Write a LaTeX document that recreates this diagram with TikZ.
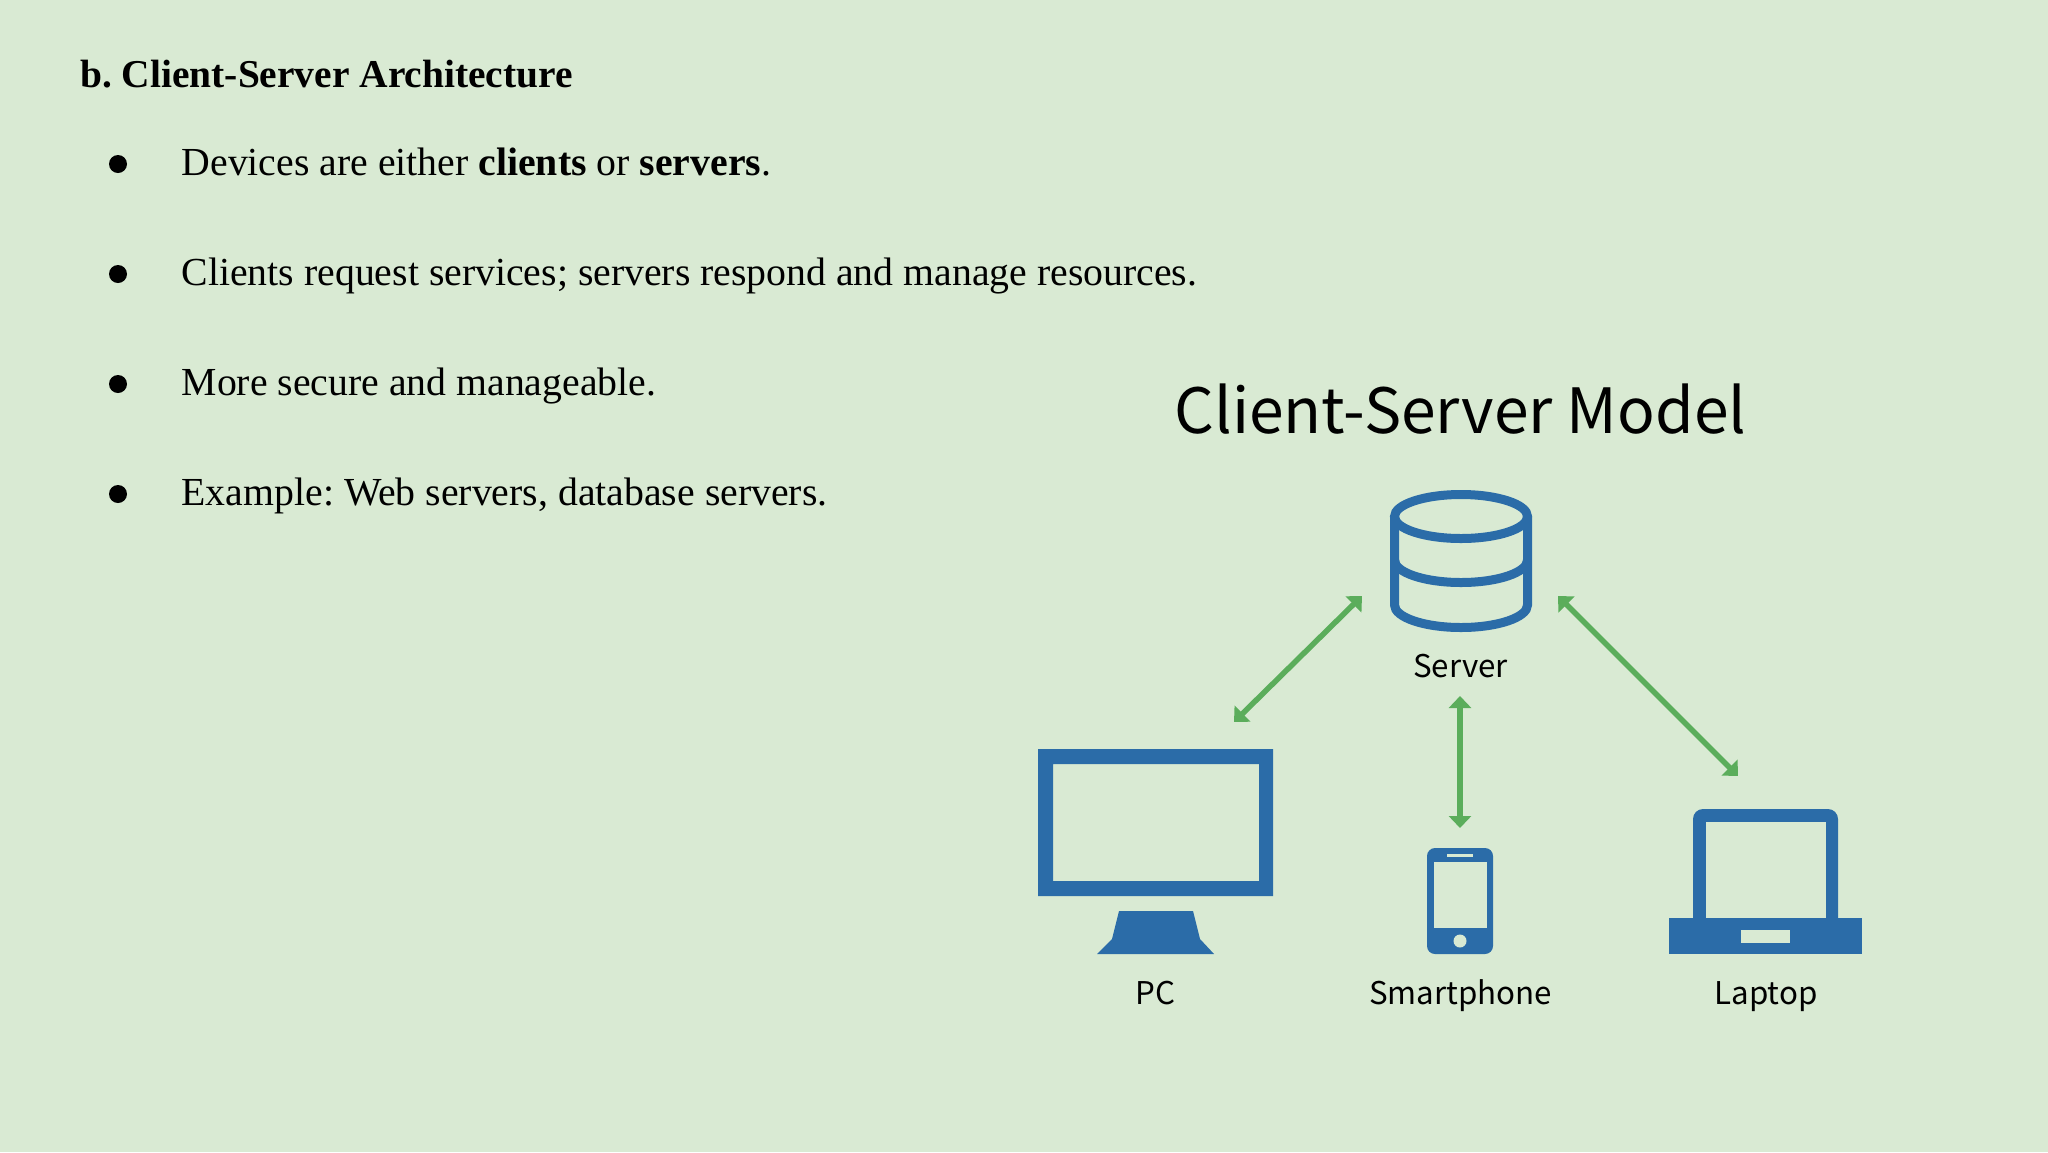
\documentclass[tikz,border=0pt]{standalone}
\usepackage{fontspec}
\setmainfont{Liberation Serif}
\newfontfamily\labelfont{Noto Sans CJK SC}
\usetikzlibrary{arrows.meta}
\definecolor{bgc}{HTML}{D9EAD3}
\definecolor{iconblue}{HTML}{2B6CA8}
\definecolor{arrowgreen}{HTML}{5BAD5B}
\tikzset{
  heading/.style={anchor=base west,inner sep=0pt,font=\frenchspacing\fontsize{39.45}{46}\selectfont\bfseries,text=black},
  bodytext/.style={anchor=base west,inner sep=0pt,font=\frenchspacing\fontsize{39.75}{46}\selectfont,text=black},
  bulletmark/.style={circle,fill=black,inner sep=0pt,minimum size=18pt},
  bigtitle/.style={anchor=base,inner sep=0pt,font=\labelfont\fontsize{62.4}{70}\selectfont,text=black},
  devlabel/.style={anchor=base,inner sep=0pt,font=\labelfont\fontsize{31.3}{38}\selectfont,text=black},
  link/.style={draw=arrowgreen,line width=5.5pt,{Triangle[length=12pt,width=22pt]}-{Triangle[length=12pt,width=22pt]}},
  iconfill/.style={fill=iconblue,draw=none},
  iconhole/.style={fill=bgc,draw=none},
  iconline/.style={draw=iconblue,line width=9pt}
}
\begin{document}
\begin{tikzpicture}[x=1pt,y=-1pt]
\fill[bgc] (0,0) rectangle (2048,1152);
\useasboundingbox (0,0) rectangle (2048,1152);
% left text
\node[heading] (head) at (80,87) {b. Client-Server Architecture};
\node[bulletmark] (b1) at (118,164) {};
\node[bulletmark] (b2) at (118,274) {};
\node[bulletmark] (b3) at (118,384) {};
\node[bulletmark] (b4) at (118,494) {};
\node[bodytext] (t1) at (181.5,175.6) {Devices are either \textbf{clients} or \textbf{servers}.};
\node[bodytext] (t2) at (181.5,285.6) {Clients request services; servers respond and manage resources.};
\node[bodytext] (t3) at (181.5,395.6) {More secure and manageable.};
\node[bodytext] (t4) at (181.5,505.6) {Example: Web servers, database servers.};
% diagram title
\node[bigtitle] (title) at (1460.5,433) {Client-Server Model};
% server cylinder
\draw[iconline] (1461,516.5) ellipse [x radius=66.5,y radius=22];
\draw[iconline] (1394.5,516.5) -- (1394.5,605) arc[start angle=180,end angle=0,x radius=66.5,y radius=22.5] -- (1527.5,516.5);
\draw[iconline] (1394.5,560) arc[start angle=180,end angle=0,x radius=66.5,y radius=22.5];
\node[devlabel] (server) at (1460.5,677) {Server};
% PC
\fill[iconfill,even odd rule] (1038,749) rectangle (1273,896) (1053,764) rectangle (1259,881);
\fill[iconfill] (1119,911) -- (1193,911) -- (1200,939) -- (1214,954) -- (1097,954) -- (1112,939) -- cycle;
\node[devlabel] (pc) at (1155.5,1004.5) {PC};
% phone
\fill[iconfill,rounded corners=8pt] (1427,848) rectangle (1493,954);
\fill[iconhole] (1434,862) rectangle (1487,928);
\fill[iconhole] (1447,854) rectangle (1473,857);
\fill[iconhole] (1460,941) circle (6.5);
\node[devlabel] (phone) at (1460.5,1004.5) {Smartphone};
% laptop
\fill[iconfill,rounded corners=10pt] (1693,930) -- (1693,809) -- (1838,809) -- (1838,930) -- cycle;
\fill[iconhole] (1706,822) rectangle (1826,918);
\fill[iconfill] (1669,918) rectangle (1862,954);
\fill[iconhole] (1741,930) rectangle (1790,943);
\node[devlabel] (laptop) at (1766,1004.5) {Laptop};
% connectors
\coordinate (srvL) at (1362,596);
\coordinate (pcEnd) at (1234,722);
\coordinate (srvB) at (1460,696);
\coordinate (phEnd) at (1460,828);
\coordinate (srvR) at (1558,596);
\coordinate (lpEnd) at (1738,776);
\draw[link] (pcEnd) -- (srvL);
\draw[link] (srvB) -- (phEnd);
\draw[link] (srvR) -- (lpEnd);
\end{tikzpicture}
\end{document}
